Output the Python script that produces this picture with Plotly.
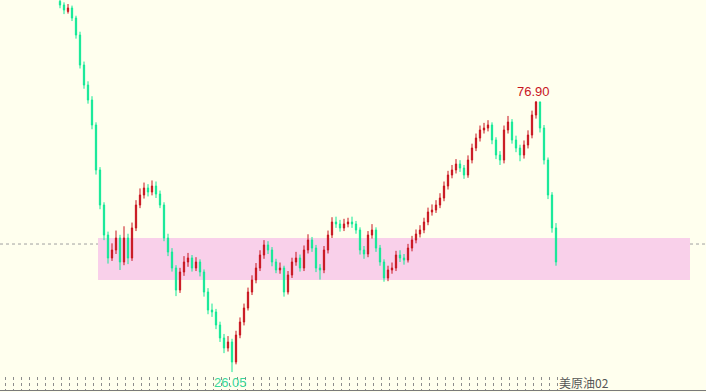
import plotly.graph_objects as go
import numpy as np

# ---- data ----
closes = [94.91, 93.97, 94.35, 92.47, 89.28, 83.65, 79.90, 77.09, 72.40, 63.96,
          57.39, 51.76, 47.45, 48.95, 51.20, 46.70, 51.20, 47.45, 53.08, 57.39,
          59.27, 60.58, 59.83, 60.95, 59.45, 57.39, 51.20, 48.57, 45.57, 41.44,
          44.82, 46.70, 47.45, 45.57, 46.70, 44.82, 41.07, 37.69, 37.32, 34.88,
          32.44, 30.56, 31.69, 27.94, 33.00, 35.44, 38.07, 41.07, 43.32, 45.57,
          48.01, 49.89, 48.95, 46.70, 45.20, 45.57, 41.07, 44.26, 46.70, 47.45,
          45.57, 48.95, 50.82, 49.32, 45.57, 45.20, 48.95, 51.76, 54.20, 53.83,
          53.08, 53.83, 54.20, 53.83, 52.70, 48.95, 48.20, 51.76, 52.70, 49.32,
          46.70, 43.70, 45.20, 45.57, 48.01, 47.45, 47.07, 49.32, 50.82, 51.95,
          52.70, 54.20, 56.08, 56.45, 57.39, 58.70, 60.95, 63.02, 63.96, 65.08,
          64.33, 63.02, 65.83, 68.08, 69.96, 71.46, 71.83, 72.40, 69.58, 66.77,
          65.83, 71.46, 72.96, 69.58, 68.08, 66.77, 68.65, 70.52, 74.27, 76.71,
          71.83, 65.83, 59.27, 53.08, 46.70]
opens = [95.60, 94.91, 93.70, 94.35, 92.47, 89.28, 83.65, 79.90, 77.09, 72.40,
         63.96, 57.39, 51.76, 47.45, 48.95, 51.20, 46.70, 51.20, 47.45, 53.08,
         57.39, 59.27, 60.58, 59.83, 60.95, 59.45, 57.39, 51.20, 48.57, 45.57,
         41.44, 44.82, 46.70, 47.45, 45.57, 46.70, 44.82, 41.07, 37.69, 37.32,
         34.88, 32.44, 30.56, 31.69, 27.94, 33.00, 35.44, 38.07, 41.07, 43.32,
         45.57, 48.01, 49.89, 48.95, 46.70, 45.20, 45.57, 41.07, 44.26, 46.70,
         47.45, 45.57, 48.95, 50.82, 49.32, 45.57, 45.20, 48.95, 51.76, 54.20,
         53.83, 53.08, 53.83, 54.20, 53.83, 52.70, 48.95, 48.20, 51.76, 52.70,
         49.32, 46.70, 43.70, 45.20, 45.57, 48.01, 47.45, 47.07, 49.32, 50.82,
         51.95, 52.70, 54.20, 56.08, 56.45, 57.39, 58.70, 60.95, 63.02, 63.96,
         65.08, 64.33, 63.02, 65.83, 68.08, 69.96, 71.46, 71.83, 72.40, 69.58,
         66.77, 65.83, 71.46, 72.96, 69.58, 68.08, 66.77, 68.65, 70.52, 74.27,
         76.71, 71.83, 65.83, 59.27, 53.08]
highs = [96.2, 95.4, 95.1, 94.8, 92.9, 89.9, 84.3, 80.6, 77.8, 72.9,
         64.5, 57.9, 52.4, 50.2, 52.6, 51.8, 53.4, 52.0, 54.1, 58.3,
         60.5, 61.6, 61.3, 62.0, 61.8, 60.1, 57.9, 52.0, 49.3, 46.1,
         45.6, 47.8, 48.4, 48.0, 47.6, 47.2, 45.3, 41.8, 38.9, 37.9,
         35.5, 33.2, 32.8, 32.3, 33.8, 36.3, 38.9, 41.9, 44.2, 46.5,
         48.9, 50.8, 50.6, 49.5, 47.3, 46.6, 46.0, 45.0, 47.5, 48.6,
         48.1, 49.8, 51.9, 51.4, 49.9, 46.3, 49.7, 52.6, 55.1, 55.2,
         54.6, 54.8, 55.0, 55.2, 54.4, 53.2, 49.7, 52.5, 53.8, 53.2,
         49.9, 47.2, 46.0, 46.6, 48.8, 48.9, 48.2, 50.1, 51.6, 52.8,
         53.6, 55.0, 56.9, 57.5, 58.3, 59.6, 61.8, 63.8, 64.9, 66.0,
         65.8, 64.9, 66.7, 68.9, 70.8, 72.3, 72.8, 73.3, 72.9, 70.1,
         67.5, 72.3, 74.1, 73.5, 70.4, 68.7, 69.5, 71.4, 75.1, 76.90,
         76.8, 72.4, 66.3, 59.8, 54.0]
lows = [94.3, 93.2, 93.3, 91.9, 88.6, 83.0, 79.2, 76.4, 71.6, 63.1,
        56.6, 50.8, 46.4, 46.9, 48.2, 45.2, 46.1, 46.3, 46.9, 52.5,
        56.8, 58.6, 59.0, 59.2, 58.7, 56.8, 50.6, 47.8, 44.9, 40.3,
        40.9, 44.1, 45.8, 44.9, 45.0, 44.0, 40.2, 36.9, 36.4, 34.1,
        31.7, 29.6, 29.9, 26.05, 27.5, 32.4, 34.8, 37.6, 40.5, 42.7,
        45.0, 47.3, 48.2, 45.9, 44.6, 44.5, 40.2, 40.6, 43.7, 46.0,
        44.9, 45.0, 48.3, 48.6, 44.8, 43.4, 44.6, 48.3, 51.2, 53.1,
        52.4, 52.5, 53.2, 53.1, 52.0, 48.1, 47.3, 47.6, 51.1, 48.6,
        46.0, 43.0, 43.1, 44.5, 45.0, 46.7, 46.2, 46.6, 48.7, 50.2,
        51.3, 52.1, 53.6, 55.4, 55.9, 56.8, 58.1, 60.3, 62.4, 63.3,
        63.6, 62.3, 62.5, 65.2, 67.5, 69.3, 70.8, 71.2, 68.8, 66.0,
        64.9, 65.2, 70.8, 68.9, 67.3, 65.6, 66.1, 68.0, 69.9, 73.6,
        71.0, 65.0, 58.5, 52.2, 46.0]

zone_low, zone_high = 43.3, 51.2      # pink band
zone_start, zone_end = 9.5, 157.5     # band extent (bar index)
ref_level = 50.07                     # dotted reference line
symbol_name = "美原油02"
peak_search_from = 60                 # labelled high is the later peak

idx = list(range(len(closes)))
hi_i = peak_search_from + int(np.argmax(highs[peak_search_from:]))
lo_i = int(np.argmin(lows))

fig = go.Figure()
fig.add_trace(go.Candlestick(
    x=idx, open=opens, high=highs, low=lows, close=closes,
    increasing=dict(line=dict(color="#c8141e", width=1), fillcolor="#c8141e"),
    decreasing=dict(line=dict(color="#12e896", width=1), fillcolor="#12e896"),
    whiskerwidth=0, hoverinfo="skip", showlegend=False,
))

# invisible trace for the bottom time-tick strip
fig.add_trace(go.Scatter(x=[idx[0]], y=[0], xaxis="x2", yaxis="y2",
                         mode="markers", marker=dict(opacity=0),
                         hoverinfo="skip", showlegend=False))

fig.add_shape(type="line", xref="paper", x0=0, x1=1, yref="y",
              y0=ref_level, y1=ref_level, layer="below",
              line=dict(color="#a0a0a0", width=1, dash="dot"))
fig.add_shape(type="rect", xref="x", yref="y", x0=zone_start, x1=zone_end,
              y0=zone_low, y1=zone_high, layer="below",
              fillcolor="#f9d0ea", line=dict(width=0))

fig.add_annotation(x=hi_i, y=highs[hi_i], text=f"{highs[hi_i]:.2f}",
                   showarrow=False, yanchor="bottom", xshift=-3, yshift=0,
                   font=dict(family="Liberation Sans, Arial", size=13, color="#c8141e"))
fig.add_annotation(x=lo_i, y=lows[lo_i], text=f"{lows[lo_i]:.2f}",
                   showarrow=False, yanchor="top", xshift=-2, yshift=-1,
                   font=dict(family="Liberation Sans, Arial", size=13, color="#3ad89a"))
fig.add_annotation(xref="paper", yref="paper", x=557/706, y=1-382/392,
                   text=symbol_name, showarrow=False, xanchor="left", yanchor="middle",
                   font=dict(family="Noto Sans CJK SC, Liberation Sans", size=12, color="#555555"))

x_range = [-15, 161.5]
tick_pos = list(np.arange(-13.75, 125, 2.0))

fig.update_layout(
    width=706, height=392, margin=dict(l=0, r=0, t=0, b=0),
    paper_bgcolor="#ffffee", plot_bgcolor="#ffffee",
    boxgap=0.55,
    xaxis=dict(range=x_range, visible=False, rangeslider=dict(visible=False),
               showgrid=False, zeroline=False),
    yaxis=dict(range=[22.31, 95.85], visible=False, showgrid=False, zeroline=False,
               domain=[0, 1]),
    xaxis2=dict(range=x_range, anchor="y2", overlaying="x", showgrid=True,
                griddash="dot", gridcolor="#8c8c8c", gridwidth=1,
                tickvals=tick_pos, showticklabels=False, ticks="",
                showline=True, linecolor="#7a7a7a", linewidth=1, zeroline=False),
    yaxis2=dict(domain=[2/392, 15/392], range=[0, 1], visible=False, showgrid=False,
                zeroline=False),
)

fig.write_html("out.html")
